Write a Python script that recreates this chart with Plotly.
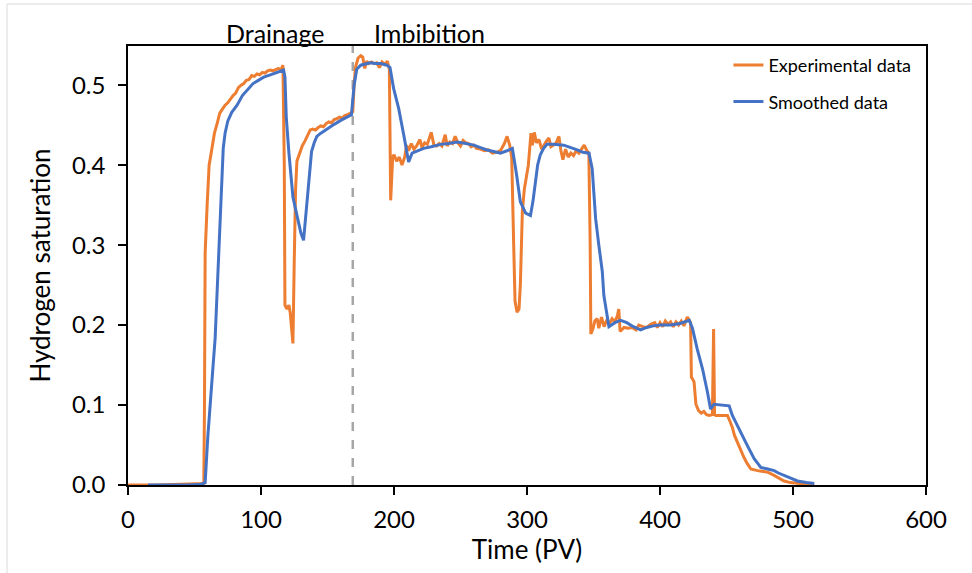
import plotly.graph_objects as go

# Experimental (orange) series: time (PV), hydrogen saturation
exp_x = [0, 14, 20, 40, 50, 57, 57.5, 58, 59.5, 61, 63, 65, 67, 69, 71, 73, 75, 77, 79, 81, 83, 85, 87, 89, 91,
         93, 95, 97, 99, 101, 103, 105, 107, 109, 111, 113, 115, 116.5, 117.5, 118, 119.5, 121, 122, 123, 124,
         125, 126, 127, 129, 131, 133, 135, 137, 139, 141, 143, 145, 147, 149, 151, 153, 155, 157, 159, 161,
         163, 165, 167, 169, 170, 171, 173, 175, 176.5, 178, 179.5, 181, 183, 185, 187, 189, 191, 193, 195,
         196.5, 197.5, 199, 200, 202, 204, 206, 208, 209.5, 211, 213, 215, 217, 219.5, 221, 223, 225, 228,
         230, 232, 234, 236, 238.5, 240, 242, 244, 246, 248, 250, 252, 254, 256, 258, 260, 262, 265, 268,
         271, 274, 277, 280, 283, 285, 287, 288.5, 290, 291, 292.5, 294, 295, 296.5, 298, 299.5, 301, 302,
         303, 304, 305.5, 307, 309, 311, 313, 315, 316.5, 318, 320, 322, 324, 325.5, 327, 329, 331, 333,
         335, 337, 339, 341, 343, 345, 346.5, 347.5, 348, 349.5, 351, 352.8, 354, 356, 358, 360, 362, 364,
         366, 368, 369, 370, 373, 376, 379, 382, 384, 387, 390, 393, 396, 398, 400, 402, 404, 406, 408,
         410, 412, 414, 416, 418, 420.5, 422, 423, 423.6, 425.6, 427, 429, 431, 433, 435, 437, 439.4, 440.3,
         441, 442, 446, 450.7, 452.5, 454.4, 456, 458.2, 460.5, 463, 465.5, 468.3, 473.3, 477, 481, 485.8,
         489, 493.3, 498, 503.4, 510, 516]
exp_y = [0, 0, 0, 0.001, 0.002, 0.002, 0.10, 0.29, 0.35, 0.40, 0.42, 0.44, 0.452, 0.465, 0.47, 0.475, 0.478,
         0.483, 0.487, 0.49, 0.497, 0.50, 0.502, 0.506, 0.507, 0.512, 0.511, 0.514, 0.513, 0.516, 0.515,
         0.518, 0.519, 0.518, 0.52, 0.521, 0.519, 0.525, 0.40, 0.225, 0.22, 0.225, 0.215, 0.20, 0.177,
         0.28, 0.37, 0.405, 0.415, 0.424, 0.43, 0.437, 0.444, 0.445, 0.444, 0.447, 0.449, 0.448, 0.452,
         0.454, 0.453, 0.457, 0.458, 0.46, 0.459, 0.462, 0.463, 0.465, 0.467, 0.50, 0.522, 0.534, 0.537,
         0.535, 0.521, 0.53, 0.527, 0.529, 0.527, 0.528, 0.522, 0.529, 0.526, 0.53, 0.52, 0.356, 0.41,
         0.413, 0.405, 0.41, 0.40, 0.41, 0.425, 0.418, 0.427, 0.42, 0.424, 0.432, 0.422, 0.428, 0.426,
         0.441, 0.425, 0.424, 0.427, 0.424, 0.438, 0.424, 0.429, 0.427, 0.436, 0.428, 0.424, 0.431, 0.428,
         0.427, 0.423, 0.425, 0.421, 0.42, 0.418, 0.419, 0.415, 0.416, 0.418, 0.427, 0.436, 0.425, 0.41,
         0.30, 0.23, 0.216, 0.22, 0.25, 0.342, 0.37, 0.385, 0.40, 0.42, 0.44, 0.425, 0.441, 0.428, 0.432,
         0.42, 0.426, 0.431, 0.434, 0.423, 0.425, 0.428, 0.436, 0.418, 0.407, 0.42, 0.41, 0.415, 0.412,
         0.418, 0.415, 0.42, 0.425, 0.418, 0.415, 0.30, 0.189, 0.195, 0.205, 0.208, 0.196, 0.21, 0.198,
         0.206, 0.202, 0.208, 0.204, 0.212, 0.22, 0.192, 0.197, 0.196, 0.197, 0.194, 0.2, 0.198, 0.197,
         0.201, 0.203, 0.197, 0.203, 0.198, 0.205, 0.201, 0.204, 0.198, 0.204, 0.2, 0.205, 0.199, 0.21,
         0.206, 0.203, 0.135, 0.129, 0.101, 0.093, 0.09, 0.092, 0.088, 0.087, 0.088, 0.195, 0.088, 0.087,
         0.087, 0.087, 0.08, 0.072, 0.062, 0.053, 0.044, 0.035, 0.027, 0.02, 0.018, 0.017, 0.016, 0.012,
         0.009, 0.005, 0.003, 0.002, 0.001, 0.0]

# Smoothed (blue) series
smooth_x = [15, 30, 45, 55, 58, 60, 62, 64, 65.5, 67, 69, 70.5, 71.6, 73, 75, 78, 82, 86, 90, 94, 98, 102, 107,
            112, 117, 118, 119, 121, 122.5, 124, 126, 128, 130, 132, 134, 136, 138, 140, 142, 145, 150, 155,
            160, 165, 168, 170, 172, 175, 182, 186, 190, 194.7, 197, 199.7, 203.5, 207.3, 211, 213.6, 218,
            222.3, 228, 235, 241, 247.5, 254, 260, 265, 270, 275, 280, 285, 289, 292, 295, 299, 302.6, 304.5,
            306.4, 308, 310, 312.5, 315, 320, 327.6, 333, 337.8, 342, 346.6, 349, 351.6, 354, 356.6, 357.8,
            361.6, 366, 370.4, 375, 380, 385.5, 390, 395, 400, 408, 415, 422, 424.4, 428, 432, 435.7, 438,
            440.6, 446, 452, 454.4, 457, 459.5, 463, 465.8, 470.8, 475.8, 481, 485.8, 489, 493.3, 498, 503.4,
            510, 516]
smooth_y = [0, 0, 0, 0.001, 0.003, 0.06, 0.10, 0.15, 0.183, 0.24, 0.308, 0.37, 0.421, 0.44, 0.455, 0.466,
            0.475, 0.487, 0.495, 0.502, 0.506, 0.51, 0.513, 0.516, 0.519, 0.51, 0.46, 0.415, 0.385, 0.36,
            0.345, 0.33, 0.315, 0.306, 0.34, 0.38, 0.417, 0.428, 0.436, 0.44, 0.446, 0.451, 0.456, 0.461,
            0.463, 0.50, 0.52, 0.525, 0.528, 0.527, 0.527, 0.525, 0.522, 0.496, 0.471, 0.438, 0.404, 0.415,
            0.418, 0.421, 0.423, 0.426, 0.427, 0.429, 0.427, 0.425, 0.422, 0.419, 0.417, 0.415, 0.418, 0.421,
            0.39, 0.354, 0.34, 0.337, 0.355, 0.379, 0.40, 0.413, 0.421, 0.426, 0.426, 0.425, 0.422, 0.419,
            0.416, 0.415, 0.396, 0.333, 0.30, 0.267, 0.237, 0.198, 0.203, 0.206, 0.203, 0.198, 0.194, 0.197,
            0.199, 0.2, 0.2, 0.202, 0.206, 0.196, 0.17, 0.145, 0.116, 0.095, 0.101, 0.1, 0.099, 0.087, 0.078,
            0.07, 0.059, 0.049, 0.033, 0.022, 0.02, 0.018, 0.015, 0.012, 0.008, 0.005, 0.003, 0.002]

x_ticks = [0, 100, 200, 300, 400, 500, 600]
y_ticks = [0.0, 0.1, 0.2, 0.3, 0.4, 0.5]
y_tick_labels = ["0.0", "0.1", "0.2", "0.3", "0.4", "0.5"]
phase_boundary = 169
phase_labels = ["Drainage", "Imbibition"]
phase_label_x = [110.5, 227]

FONT = "Lato, 'Open Sans', sans-serif"
ORANGE = "#ED7D31"
BLUE = "#4472C4"

fig = go.Figure()
fig.add_trace(go.Scatter(x=exp_x, y=exp_y, mode="lines", name="Experimental data",
                         line=dict(color=ORANGE, width=3), legendgroup="a"))
fig.add_trace(go.Scatter(x=smooth_x, y=smooth_y, mode="lines", name="Smoothed data",
                         line=dict(color=BLUE, width=3), legendgroup="b"))

fig.add_shape(type="line", x0=phase_boundary, x1=phase_boundary, y0=0, y1=1, xref="x", yref="paper",
              line=dict(color="#A6A6A6", width=2.5, dash="dash"), layer="below")

for lab, lx in zip(phase_labels, phase_label_x):
    fig.add_annotation(x=lx, y=1.03, xref="x", yref="paper", text=lab, showarrow=False,
                       font=dict(family=FONT, size=25, color="black"), yanchor="middle")

# light outer chart border (left and top edges)
fig.add_shape(type="line", xref="paper", yref="paper", x0=-0.1516, x1=-0.1516, y0=-0.21, y1=1.0957,
              line=dict(color="#DADADA", width=1))
fig.add_shape(type="line", xref="paper", yref="paper", x0=-0.1516, x1=1.06, y0=1.0957, y1=1.0957,
              line=dict(color="#DADADA", width=1))

fig.update_layout(
    width=972, height=573,
    margin=dict(l=128, r=46, t=46, b=88),
    paper_bgcolor="white", plot_bgcolor="white",
    font=dict(family=FONT, color="black"),
    showlegend=True,
    legend=dict(x=0.988, y=0.998, xanchor="right", yanchor="top", bgcolor="rgba(0,0,0,0)",
                font=dict(family=FONT, size=18, color="black"), traceorder="grouped",
                tracegroupgap=10),
    xaxis=dict(range=[0, 600], tickvals=x_ticks, showgrid=False, zeroline=False,
               showline=True, linecolor="black", linewidth=1.5, mirror=True,
               ticks="outside", ticklen=8, tickcolor="black", tickwidth=1.5, ticklabelstandoff=4,
               tickfont=dict(family=FONT, size=24, color="black"),
               title=dict(text="Time (PV)", font=dict(family=FONT, size=26, color="black"), standoff=6)),
    yaxis=dict(range=[0, 0.549], tickvals=y_ticks, ticktext=y_tick_labels, showgrid=False, zeroline=False,
               showline=True, linecolor="black", linewidth=1.5, mirror=True,
               ticks="outside", ticklen=8, tickcolor="black", tickwidth=1.5, ticklabelstandoff=8,
               tickfont=dict(family=FONT, size=24, color="black"),
               title=dict(text="Hydrogen saturation", font=dict(family=FONT, size=26, color="black"),
                          standoff=14)),
)

fig.write_html("out.html")
